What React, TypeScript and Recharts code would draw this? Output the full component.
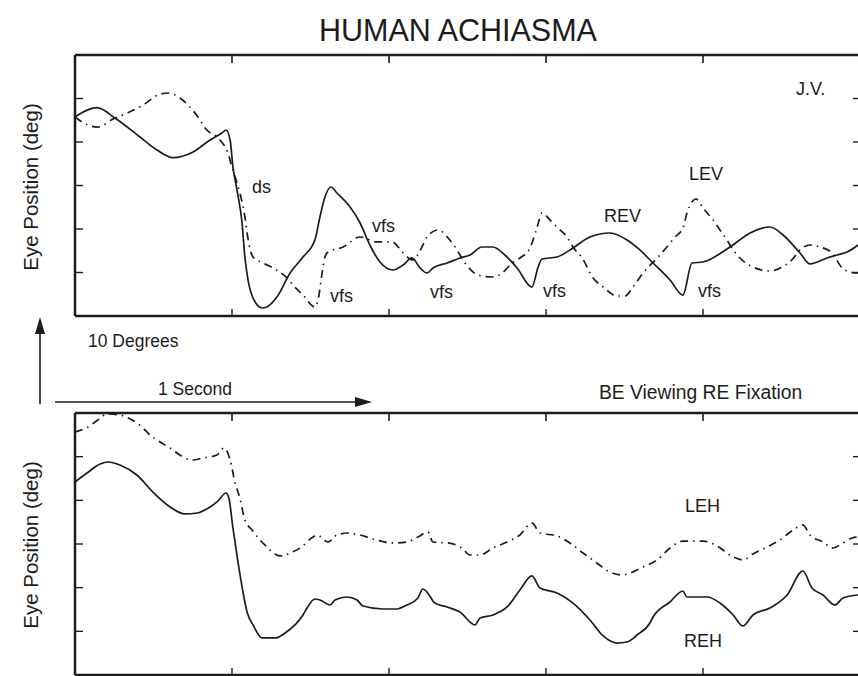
import React from 'react'
import { LineChart, Line, XAxis, YAxis } from 'recharts'

// time in seconds, eye position in degrees (0..30 span per panel)
const timeTicks = [0.5, 1, 1.5, 2]
const degTicks = [5, 10, 15, 20, 25]

// right eye vertical (solid)
const revTime = [0, 0.070, 0.127, 0.207, 0.261, 0.312, 0.376, 0.430, 0.468, 0.481, 0.494, 0.503, 0.516, 0.532, 0.541, 0.551, 0.567, 0.596, 0.611, 0.643, 0.685, 0.726, 0.764, 0.780, 0.796, 0.815, 0.834, 0.876, 0.908, 0.939, 0.971, 1.013, 1.045, 1.073, 1.099, 1.121, 1.140, 1.185, 1.226, 1.258, 1.296, 1.331, 1.369, 1.408, 1.455, 1.475, 1.487, 1.535, 1.586, 1.640, 1.704, 1.758, 1.799, 1.841, 1.895, 1.936, 1.965, 2.000, 2.086, 2.150, 2.213, 2.255, 2.309, 2.341, 2.395, 2.427, 2.459, 2.494]
const revDeg = [22.91, 23.94, 22.76, 20.57, 19.08, 18.20, 18.85, 20.23, 21.03, 21.38, 20.23, 17.13, 14.48, 10.69, 6.78, 4.14, 2.07, 0.92, 1.03, 2.18, 4.94, 6.78, 8.74, 11.38, 13.68, 14.83, 14.14, 12.53, 10.69, 8.16, 6.21, 5.29, 5.86, 6.67, 5.52, 4.94, 5.52, 6.09, 6.67, 7.01, 7.93, 7.93, 7.01, 5.52, 3.33, 5.63, 6.55, 6.78, 7.82, 9.08, 9.54, 8.74, 7.59, 6.09, 4.14, 2.41, 6.09, 6.21, 7.93, 9.54, 10.23, 9.31, 7.24, 5.98, 6.67, 7.01, 7.36, 8.16]

// left eye vertical (dash-dot)
const levTime = [0, 0.041, 0.073, 0.121, 0.166, 0.217, 0.264, 0.296, 0.334, 0.366, 0.398, 0.414, 0.462, 0.487, 0.500, 0.516, 0.525, 0.541, 0.548, 0.567, 0.599, 0.631, 0.675, 0.694, 0.726, 0.764, 0.774, 0.787, 0.796, 0.806, 0.854, 0.908, 0.962, 1.010, 1.045, 1.076, 1.105, 1.121, 1.156, 1.201, 1.252, 1.283, 1.328, 1.360, 1.392, 1.417, 1.449, 1.471, 1.487, 1.513, 1.538, 1.567, 1.586, 1.615, 1.650, 1.682, 1.726, 1.752, 1.777, 1.809, 1.854, 1.885, 1.911, 1.936, 1.949, 1.978, 2.000, 2.032, 2.054, 2.076, 2.096, 2.124, 2.159, 2.213, 2.252, 2.283, 2.309, 2.341, 2.373, 2.411, 2.443, 2.468, 2.494]
const levDeg = [22.87, 21.95, 21.72, 22.64, 23.33, 24.25, 25.40, 25.63, 25.06, 24.02, 22.53, 21.61, 20.23, 18.74, 17.13, 15.29, 14.14, 11.38, 9.54, 6.78, 6.09, 5.52, 4.37, 3.56, 2.41, 1.03, 1.84, 4.94, 6.78, 7.36, 7.93, 9.08, 8.51, 8.51, 7.24, 6.44, 7.93, 9.08, 9.89, 8.39, 5.63, 4.71, 4.48, 4.94, 6.09, 6.67, 7.82, 10.11, 11.84, 11.03, 10.11, 9.08, 7.93, 6.67, 4.37, 3.33, 2.30, 2.30, 3.33, 4.94, 6.67, 7.93, 9.08, 10.11, 11.84, 13.45, 12.41, 11.03, 9.89, 8.74, 7.59, 6.44, 5.63, 5.17, 5.63, 6.44, 7.59, 8.16, 7.93, 7.24, 5.52, 5.06, 4.94]

// left eye horizontal (dash-dot)
const lehTime = [0, 0.041, 0.073, 0.102, 0.143, 0.182, 0.213, 0.239, 0.271, 0.303, 0.334, 0.373, 0.408, 0.452, 0.475, 0.494, 0.510, 0.525, 0.541, 0.564, 0.589, 0.615, 0.631, 0.659, 0.685, 0.717, 0.758, 0.771, 0.806, 0.834, 0.869, 0.908, 0.949, 1.013, 1.057, 1.092, 1.124, 1.140, 1.188, 1.232, 1.258, 1.290, 1.331, 1.376, 1.417, 1.455, 1.481, 1.535, 1.576, 1.618, 1.662, 1.704, 1.742, 1.768, 1.809, 1.854, 1.895, 1.936, 2.000, 2.045, 2.086, 2.127, 2.159, 2.204, 2.245, 2.287, 2.318, 2.341, 2.382, 2.414, 2.446, 2.475, 2.494]
const lehDeg = [27.83, 28.40, 29.20, 29.89, 29.77, 29.20, 28.40, 27.48, 26.68, 25.99, 25.19, 24.62, 24.85, 25.19, 25.99, 24.62, 21.99, 20.27, 17.75, 16.60, 15.46, 14.54, 13.97, 13.63, 13.97, 14.54, 15.80, 16.03, 15.23, 16.03, 16.26, 16.03, 15.57, 15.12, 15.23, 15.80, 16.37, 15.23, 15.12, 14.54, 13.74, 13.74, 14.54, 15.23, 16.03, 17.41, 16.26, 15.92, 15.12, 13.97, 12.82, 11.79, 11.45, 11.68, 12.37, 13.17, 14.54, 15.34, 15.34, 14.77, 13.74, 13.17, 13.86, 14.66, 15.46, 16.60, 17.18, 16.03, 15.23, 14.54, 15.12, 15.69, 15.80]

// right eye horizontal (solid)
const rehTime = [0, 0.038, 0.080, 0.105, 0.143, 0.197, 0.248, 0.303, 0.350, 0.389, 0.430, 0.455, 0.481, 0.490, 0.503, 0.519, 0.535, 0.548, 0.567, 0.596, 0.637, 0.669, 0.726, 0.739, 0.764, 0.780, 0.812, 0.828, 0.866, 0.898, 0.917, 0.981, 1.025, 1.057, 1.092, 1.108, 1.121, 1.146, 1.185, 1.226, 1.274, 1.290, 1.331, 1.376, 1.417, 1.455, 1.481, 1.535, 1.586, 1.640, 1.682, 1.726, 1.758, 1.790, 1.831, 1.841, 1.895, 1.936, 1.949, 2.013, 2.054, 2.096, 2.127, 2.159, 2.213, 2.268, 2.318, 2.347, 2.382, 2.420, 2.446, 2.494]
const rehDeg = [22.10, 23.13, 24.16, 24.39, 24.05, 22.90, 20.95, 19.24, 18.44, 18.55, 19.24, 19.92, 20.84, 20.27, 16.83, 12.94, 9.50, 7.21, 5.73, 4.24, 4.24, 4.81, 6.87, 7.67, 8.70, 8.59, 8.02, 8.59, 8.93, 8.59, 7.90, 7.56, 7.56, 8.02, 8.82, 9.85, 9.50, 8.24, 7.79, 7.21, 5.73, 6.53, 6.87, 7.79, 9.73, 11.34, 9.96, 9.39, 8.24, 6.30, 4.47, 3.66, 3.78, 4.58, 5.95, 6.64, 8.36, 9.62, 8.93, 8.93, 8.24, 6.87, 5.61, 6.87, 7.67, 9.16, 11.91, 9.96, 9.16, 8.02, 8.82, 9.16]

const toPoints = (time: number[], deg: number[]) => time.map((t, i) => ({ t, deg: deg[i] }))

const ink = '#1c1c1c'
const font = '"Liberation Sans", Arial, Helvetica, sans-serif'
const dashDot = '8 5 1.5 5'

// plot frame: left edge 75px, 2.5 s across 785px
const plotLeft = 75
const plotWidth = 785
const tMax = 2.5

// tick marks without tick labels
const NoLabel = () => <g />

interface PanelProps {
  top: number
  height: number
  marginTop: number
  marginBottom: number
  solid: { t: number; deg: number }[]
  dashed: { t: number; deg: number }[]
}

const Panel = ({ top, height, marginTop, marginBottom, solid, dashed }: PanelProps) => {
  const axisLine = { stroke: ink, strokeWidth: 2.5 }
  const tickLine = { stroke: ink, strokeWidth: 1.4 }
  return (
    <div style={{ position: 'absolute', left: 0, top }}>
      <LineChart width={870} height={height}
        margin={{ top: marginTop - 1, right: 870 - plotLeft - plotWidth, bottom: marginBottom, left: plotLeft }}>
        <XAxis xAxisId="top" orientation="top" height={1} type="number" dataKey="t" domain={[0, tMax]}
          ticks={timeTicks} tick={NoLabel} tickLine={false} axisLine={axisLine} />
        <XAxis xAxisId="bottom" orientation="bottom" mirror type="number" dataKey="t" domain={[0, tMax]}
          ticks={timeTicks} tick={NoLabel} tickSize={7} axisLine={axisLine} tickLine={tickLine} />
        <YAxis yAxisId="left" orientation="left" mirror type="number" domain={[0, 30]}
          ticks={degTicks} tick={NoLabel} tickSize={8} axisLine={axisLine} tickLine={tickLine} />
        <YAxis yAxisId="right" orientation="right" mirror type="number" domain={[0, 30]}
          ticks={degTicks} tick={NoLabel} tickSize={7} axisLine={false} tickLine={tickLine} />
        <Line xAxisId="bottom" yAxisId="left" data={solid} dataKey="deg" type="monotone"
          stroke={ink} strokeWidth={1.7} dot={false} isAnimationActive={false} />
        {/* same scales as the solid trace, bound to the other two axes */}
        <Line xAxisId="top" yAxisId="right" data={dashed} dataKey="deg" type="monotone"
          stroke={ink} strokeWidth={1.7} strokeDasharray={dashDot} dot={false} isAnimationActive={false} />
      </LineChart>
    </div>
  )
}

const App = () => {
  const label = { fontFamily: font, fontSize: 18, fill: ink }
  const tickX = (t: number) => plotLeft + (t / tMax) * plotWidth
  const frameTops = [55, 413]
  return (
    <div style={{ position: 'fixed', left: 0, top: 0, width: 858, height: 676, overflow: 'hidden', background: '#fff' }}>
      <Panel top={0} height={330} marginTop={55} marginBottom={14}
        solid={toPoints(revTime, revDeg)} dashed={toPoints(levTime, levDeg)} />
      <Panel top={400} height={290} marginTop={13} marginBottom={15}
        solid={toPoints(rehTime, rehDeg)} dashed={toPoints(lehTime, lehDeg)} />
      <svg width={858} height={676} style={{ position: 'absolute', left: 0, top: 0, pointerEvents: 'none' }}>
        {/* inward ticks hanging from the top frame of each panel */}
        <g stroke={ink} strokeWidth={1.6}>
          {frameTops.flatMap((y) => timeTicks.map((t) => (
            <line key={`${y}-${t}`} x1={tickX(t)} x2={tickX(t)} y1={y} y2={y + 8} />
          )))}
        </g>

        <text x={458} y={41} textAnchor="middle" style={{ ...label, fontSize: 30.5 }}>HUMAN ACHIASMA</text>
        <text transform="translate(38,187) rotate(-90)" textAnchor="middle" style={{ ...label, fontSize: 20.5 }}>Eye Position (deg)</text>
        <text transform="translate(38,545) rotate(-90)" textAnchor="middle" style={{ ...label, fontSize: 20.5 }}>Eye Position (deg)</text>

        <text x={796} y={95} style={label}>J.V.</text>
        <text x={252} y={193} style={label}>ds</text>
        <text x={372} y={232} style={label}>vfs</text>
        <text x={330} y={302} style={label}>vfs</text>
        <text x={430} y={298} style={label}>vfs</text>
        <text x={543} y={297} style={label}>vfs</text>
        <text x={698} y={297} style={label}>vfs</text>
        <text x={689} y={180} style={label}>LEV</text>
        <text x={604} y={222} style={label}>REV</text>
        <text x={685} y={512} style={label}>LEH</text>
        <text x={684} y={647} style={label}>REH</text>

        <text x={88} y={347} style={{ ...label, fontSize: 17.5 }}>10 Degrees</text>
        <text x={158} y={395} style={{ ...label, fontSize: 17.5 }}>1 Second</text>
        <text x={599} y={399} style={{ ...label, fontSize: 19.3 }}>BE Viewing RE Fixation</text>

        <line x1={40} y1={404} x2={40} y2={330} stroke={ink} strokeWidth={1.6} />
        <polygon points="40,317 35,334 45,334" fill={ink} />
        <line x1={55} y1={402} x2={358} y2={402} stroke={ink} strokeWidth={1.6} />
        <polygon points="372,402 355,397 355,407" fill={ink} />
      </svg>
    </div>
  )
}

export default App
